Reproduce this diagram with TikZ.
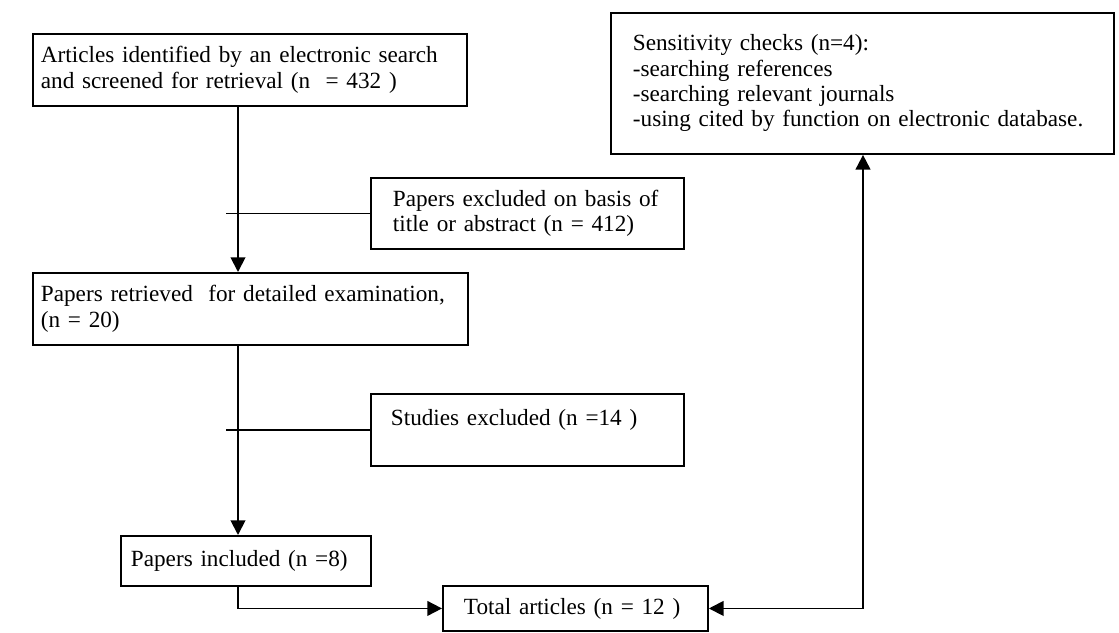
\documentclass[tikz,border=0pt]{standalone}
\usepackage{fontspec}
\setmainfont{Liberation Serif}
\usetikzlibrary{arrows.meta}
\begin{document}
\begin{tikzpicture}[x=0.75pt,y=-0.75pt,
  box/.style={draw, line width=1.4pt, anchor=north west, inner sep=0pt, align=left,
    font=\fontsize{17.4}{19}\selectfont},
  conn/.style={line width=1.4pt},
  arr/.style={line width=1.4pt, -{Triangle[length=11pt,width=11pt]}},
  darr/.style={line width=1.4pt, {Triangle[length=11pt,width=11pt]}-{Triangle[length=11pt,width=11pt]}}]
\useasboundingbox (0,0) rectangle (1119,632);
\node[box, minimum width=434*0.75pt, minimum height=72*0.75pt, text width=418*0.75pt] (b1) at (32,33)
  {Articles identified by an electronic search\\and screened for retrieval (n\ \ = 432 )};
\node[box, minimum width=503*0.75pt, minimum height=141*0.75pt, text width=459*0.75pt] (sens) at (610,12)
  {Sensitivity checks (n=4):\\-searching references\\-searching relevant journals\\-using cited by function on electronic database.};
\node[box, minimum width=313*0.75pt, minimum height=71*0.75pt, text width=269*0.75pt] (e1) at (370,177)
  {Papers excluded on basis of\\title or abstract (n = 412)};
\node[box, minimum width=435*0.75pt, minimum height=72*0.75pt, text width=419*0.75pt] (b2) at (32,272)
  {Papers retrieved\ \ for detailed examination,\\(n = 20)};
\node[box, minimum width=313*0.75pt, minimum height=72*0.75pt, text width=273*0.75pt] (e2) at (370,393)
  {Studies excluded (n =14 )\\\mbox{}};
\node[box, minimum width=250*0.75pt, minimum height=50*0.75pt, text width=230*0.75pt] (b3) at (120,535)
  {Papers included (n =8)};
\node[box, minimum width=265*0.75pt, minimum height=45*0.75pt, text width=223*0.75pt] (b4) at (442,585)
  {Total articles (n = 12 )};
\coordinate (v) at (238,0);
\coordinate (t) at (226,0);
\coordinate (r) at (863,0);
\draw[arr] (b1.south -| v) -- (b2.north -| v);
\draw[conn] (e1.west) -- (e1.west -| t);
\draw[arr] (b2.south -| v) -- (b3.north -| v);
\draw[conn] (e2.west) -- (e2.west -| t);
\draw[arr] (b3.south -| v) |- (b4.west);
\draw[darr] (b4.east) -| (sens.south -| r);
\end{tikzpicture}
\end{document}
